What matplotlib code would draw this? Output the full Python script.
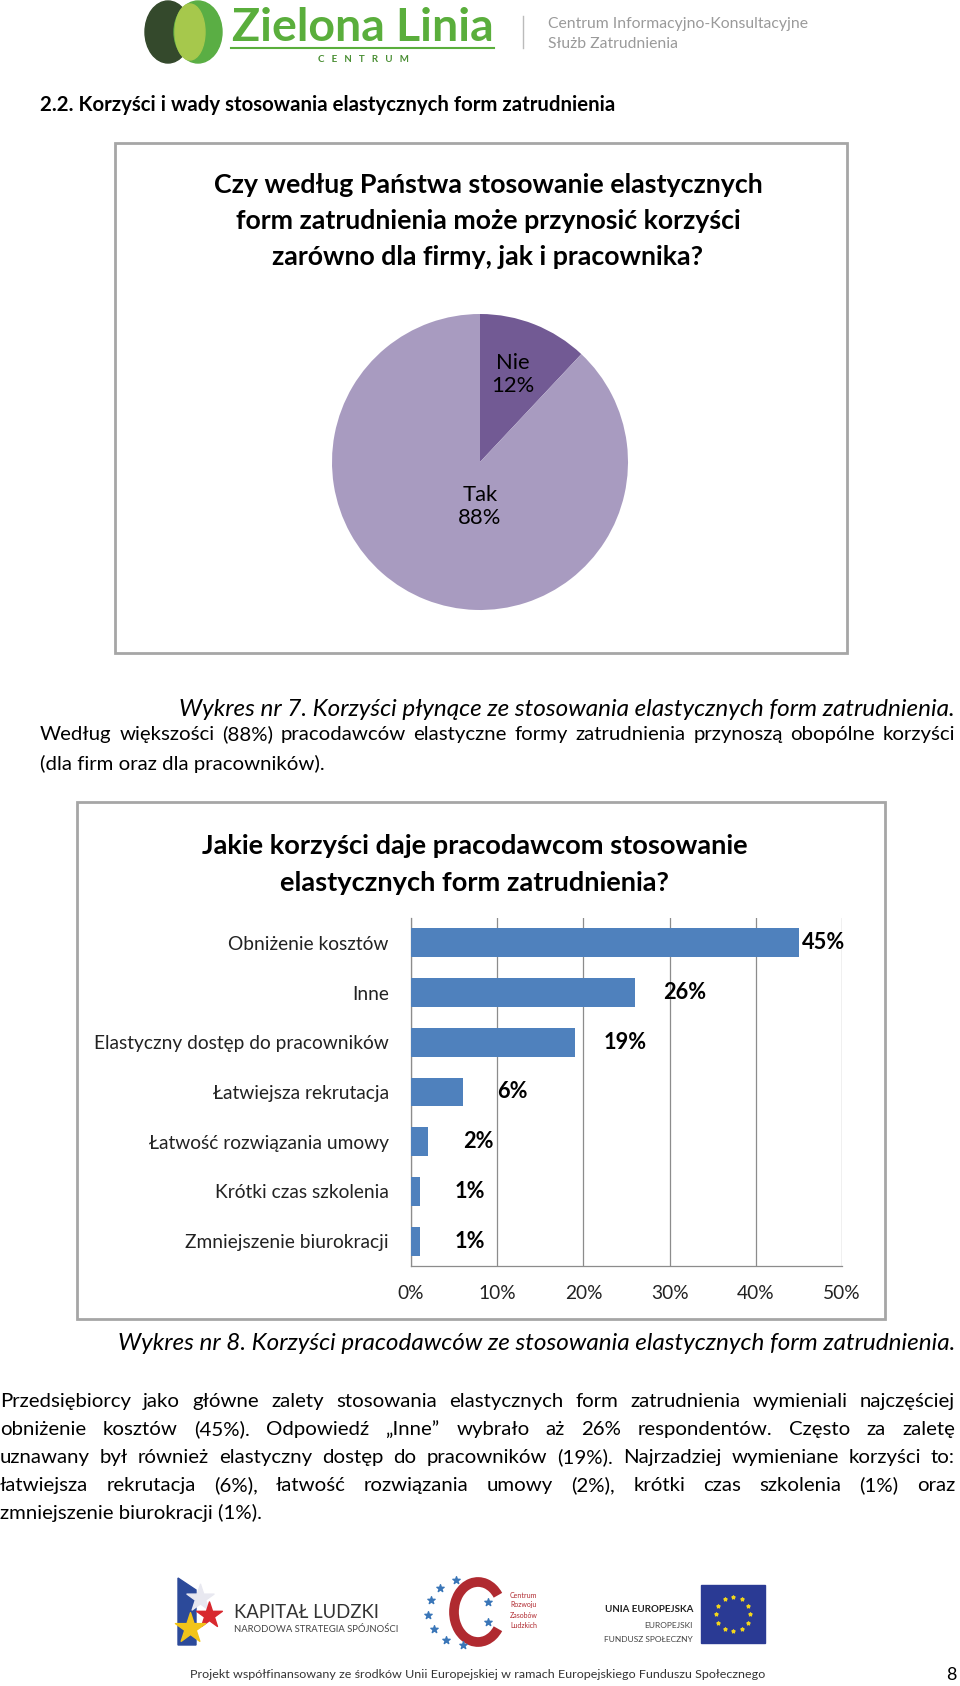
import numpy as np
import matplotlib
matplotlib.use("Agg")
import matplotlib.pyplot as plt
from matplotlib.patches import Rectangle, Ellipse, Arc, Polygon

W, H = 960, 1686
FONT = ["Lato", "DejaVu Sans"]

# --- data ---
pie_labels = ["Nie", "Tak"]
pie_values = [12, 88]
pie_colors = ["#725a94", "#a89bc0"]

bar_labels = ["Obniżenie kosztów", "Inne", "Elastyczny dostęp do pracowników",
              "Łatwiejsza rekrutacja", "Łatwość rozwiązania umowy",
              "Krótki czas szkolenia", "Zmniejszenie biurokracji"]
bar_values = [45, 26, 19, 6, 2, 1, 1]
bar_ticks = [0, 10, 20, 30, 40, 50]

heading = "2.2. Korzyści i wady stosowania elastycznych form zatrudnienia"
pie_title = ["Czy według Państwa stosowanie elastycznych",
             "form zatrudnienia może przynosić korzyści",
             "zarówno dla firmy, jak i pracownika?"]
bar_title = ["Jakie korzyści daje pracodawcom stosowanie",
             "elastycznych form zatrudnienia?"]
caption7 = "Wykres nr 7. Korzyści płynące ze stosowania elastycznych form zatrudnienia."
caption8 = "Wykres nr 8. Korzyści pracodawców ze stosowania elastycznych form zatrudnienia."
para1 = ["Według większości (88%) pracodawców elastyczne formy zatrudnienia przynoszą obopólne korzyści",
         "(dla firm oraz dla pracowników)."]
para2 = ["Przedsiębiorcy jako główne zalety stosowania elastycznych form zatrudnienia wymieniali najczęściej",
         "obniżenie kosztów (45%). Odpowiedź „Inne” wybrało aż 26% respondentów. Często za zaletę",
         "uznawany był również elastyczny dostęp do pracowników (19%). Najrzadziej wymieniane korzyści to:",
         "łatwiejsza rekrutacja (6%), łatwość rozwiązania umowy (2%), krótki czas szkolenia (1%) oraz",
         "zmniejszenie biurokracji (1%)."]
footer = "Projekt współfinansowany ze środków Unii Europejskiej w ramach Europejskiego Funduszu Społecznego"

fig = plt.figure(figsize=(W / 100, H / 100), dpi=100)
renderer = fig.canvas.get_renderer()

# page-sized axes in pixel units (y down)
bg = fig.add_axes([0, 0, 1, 1])
bg.set_xlim(0, W)
bg.set_ylim(H, 0)
bg.set_axis_off()


def size_for(s, target, **kw):
    t = bg.text(0, 0, s, fontsize=10, family=FONT, **kw)
    w = t.get_window_extent(renderer).width
    t.remove()
    return 10 * target / w


def put(x, y, s, size, **kw):
    kw.setdefault("va", "center")
    return bg.text(x, y, s, fontsize=size, family=FONT, **kw)


def justify(line, x0, x1, y, size, **kw):
    # y is the baseline of the line
    words = line.split(" ")
    ts = [put(x0, y, w, size, va="baseline", **kw) for w in words]
    ws = [t.get_window_extent(renderer).width for t in ts]
    gap = (x1 - x0 - sum(ws)) / (len(ws) - 1)
    x = x0
    for t, w in zip(ts, ws):
        t.set_x(x)
        x += w + gap


# header logo
bg.add_patch(Ellipse((168, 32), 46, 62, color="#34492c"))
bg.add_patch(Ellipse((198, 32), 48, 62, color="#5aae44"))
bg.add_patch(Ellipse((190, 32), 30, 56, color="#a6c84c"))
s = size_for("Zielona Linia", 262, weight="bold")
put(232, 28, "Zielona Linia", s, color="#5aae3c", weight="bold")
bg.plot([231, 494], [48, 48], color="#5aae3c", lw=1.5)
put(363, 59, "C   E   N   T   R   U   M", 7, ha="center", color="#4a8f34", weight="bold")
bg.plot([523, 523], [16, 48], color="#bbbbbb", lw=1)
s = size_for("Centrum Informacyjno-Konsultacyjne", 260)
put(548, 24, "Centrum Informacyjno-Konsultacyjne", s, color="#9a9a9a")
put(548, 44, "Służb Zatrudnienia", s, color="#9a9a9a")

# heading
s = size_for(heading, 576, weight="bold")
put(40, 105, heading, s, weight="bold")

# chart frames
bg.add_patch(Rectangle((115, 143), 732, 510, fill=False, ec="#a6a6a6", lw=2))
bg.add_patch(Rectangle((77, 802), 808, 517, fill=False, ec="#a6a6a6", lw=2))

# pie title
s = size_for(pie_title[0], 550, weight="bold")
for i, line in enumerate(pie_title):
    put(488, 185 + 36 * i, line, s, ha="center", weight="bold")

# pie chart
cx, cy, r = 480, 462, 148
axp = fig.add_axes([(cx - r) / W, 1 - (cy + r) / H, 2 * r / W, 2 * r / H])
axp.pie(pie_values, colors=pie_colors, startangle=90, counterclock=False,
        wedgeprops=dict(linewidth=0))
axp.set_xlim(-1, 1)
axp.set_ylim(-1, 1)
lab_size = size_for("88%", 43)
axp.text(0.22, 0.59, f"{pie_labels[0]}\n{pie_values[0]}%", ha="center", va="center",
         fontsize=lab_size, family=FONT, linespacing=1.2)
axp.text(0.0, -0.30, f"{pie_labels[1]}\n{pie_values[1]}%", ha="center", va="center",
         fontsize=lab_size, family=FONT, linespacing=1.2)

# caption 7 and paragraph 1
s_cap = size_for(caption7, 955 - 181, style="italic")
put(955, 710, caption7, s_cap, ha="right", style="italic")
s_par = size_for(para1[0], 895)
justify(para1[0], 40, 955, 740, s_par)
put(40, 770, para1[1], s_par, va="baseline")

# bar chart title
s = size_for(bar_title[0], 549, weight="bold")
for i, line in enumerate(bar_title):
    put(475, 846 + 37 * i, line, s, ha="center", weight="bold")

# bar chart
x0, x1, ytop, ybot = 411, 842, 918, 1266
axb = fig.add_axes([x0 / W, 1 - ybot / H, (x1 - x0) / W, (ybot - ytop) / H])
ypos = np.arange(len(bar_values))
axb.barh(ypos, bar_values, height=0.58, color="#4f81bd", zorder=3)
axb.set_xlim(0, 50)
axb.set_ylim(len(bar_values) - 0.5, -0.5)
axb.set_xticks(bar_ticks)
tick_size = size_for("Obniżenie kosztów", 161)
axb.set_xticklabels([f"{t}%" for t in bar_ticks], fontsize=tick_size, family=FONT, color="#222222")
axb.set_yticks(ypos)
axb.set_yticklabels(bar_labels, fontsize=tick_size, family=FONT, color="#222222")
axb.tick_params(axis="x", length=0, pad=14)
axb.tick_params(axis="y", length=0, pad=16)
axb.grid(axis="x", color="#8c8c8c", lw=0.9, zorder=0)
for side in ["top", "right"]:
    axb.spines[side].set_visible(False)
for side in ["left", "bottom"]:
    axb.spines[side].set_color("#8c8c8c")
    axb.spines[side].set_linewidth(0.9)
val_size = size_for("45%", 43, weight="bold")
for y, v in zip(ypos, bar_values):
    if v > 40:
        axb.text(v + 0.3, y, f"{v}%", ha="left", va="center", fontsize=val_size,
                 family=FONT, weight="bold", clip_on=False)
    else:
        axb.text(v + 5.8, y, f"{v}%", ha="center", va="center", fontsize=val_size,
                 family=FONT, weight="bold")

# caption 8 and paragraph 2
put(955, 1344, caption8, s_cap, ha="right", style="italic")
for i, line in enumerate(para2):
    y = 1407 + 28 * i
    if i < len(para2) - 1:
        justify(line, 0, 955, y, s_par)
    else:
        put(0, y, line, s_par, va="baseline")

# footer logos
bg.add_patch(Polygon([[178, 1578], [196, 1590], [196, 1645], [178, 1645]], color="#2c4a9a"))
bg.scatter([200], [1598], s=420, marker="*", color="#e8e8f0", zorder=3)
bg.scatter([209], [1615], s=380, marker="*", color="#d8282e", zorder=3)
bg.scatter([190], [1628], s=520, marker="*", color="#f2c419", zorder=3)
s = size_for("KAPITAŁ LUDZKI", 144)
put(234, 1612, "KAPITAŁ LUDZKI", s, color="#333333")
s = size_for("NARODOWA STRATEGIA SPÓJNOŚCI", 164)
put(234, 1629, "NARODOWA STRATEGIA SPÓJNOŚCI", s, color="#444444")

bg.add_patch(Arc((478, 1612), 48, 60, theta1=40, theta2=320, color="#b02a30", lw=7))
ang = np.radians([110, 135, 160, 185, 210, 235, 260])
bg.scatter(470 + 42 * np.cos(ang), 1612 - 34 * np.sin(ang), s=30, marker="*", color="#3a76b8")
bg.scatter([488, 488], [1602, 1622], s=30, marker="*", color="#3a76b8")
for i, w in enumerate(["Centrum", "Rozwoju", "Zasobów", "Ludzkich"]):
    put(510, 1595 + 10 * i, w, 5, color="#b02a30")

put(693, 1609, "UNIA EUROPEJSKA", 7, ha="right", weight="bold", color="#222222")
put(693, 1625, "EUROPEJSKI", 6, ha="right", color="#444444")
put(693, 1639, "FUNDUSZ SPOŁECZNY", 6, ha="right", color="#444444")
bg.add_patch(Rectangle((701, 1585), 64, 58, color="#2a3a94"))
ang = np.radians(np.arange(0, 360, 30))
bg.scatter(733 + 17 * np.cos(ang), 1614 + 17 * np.sin(ang), s=6, marker="*", color="#f2d51c")

s = size_for(footer, 574)
put(478, 1675, footer, s, ha="center", color="#333333")
put(951, 1675, "8", 13, ha="center")

fig.savefig("out.png", dpi=100)
